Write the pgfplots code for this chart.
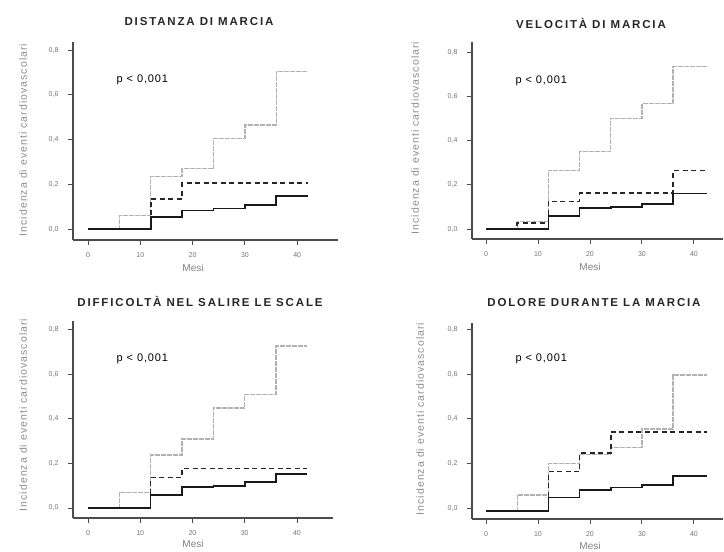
\documentclass[border=0pt]{standalone}
\usepackage{fontspec}
\setmainfont{Liberation Sans}
\newfontfamily\titlefont[LetterSpace=16]{Liberation Sans}
\newfontfamily\pfont[LetterSpace=8]{Liberation Sans}
\newfontfamily\labfont[LetterSpace=10]{Liberation Sans}
\usepackage{pgfplots}
\pgfplotsset{compat=1.18}
\pgfplotsset{
  km/.style={
    axis lines=left,
    axis line style={-, black!70, line width=1.1pt},
    scale only axis,
    tick align=outside,
    major tick length=5pt,
    tick style={black!70, line width=0.9pt},
    xtick={0,10,20,30,40},
    ytick={0,0.2,0.4,0.6,0.8},
    ticklabel style={font=\fontsize{7}{8}\selectfont, text=black!55},
    /pgf/number format/assume math mode=true,
    /pgf/number format/use comma,
    yticklabel style={/pgf/number format/fixed, /pgf/number format/fixed zerofill, /pgf/number format/precision=1, xshift=-6pt},
    xticklabel style={yshift=-4pt},
    clip=false,
  },
  gr/.style={const plot, black!30, line width=1.4pt, dash pattern=on 5pt off 1pt},
  da/.style={const plot, black!85, line width=1.5pt, dash pattern=on 5pt off 3.5pt},
  so/.style={const plot, black!90, line width=1.6pt},
}
\newcommand{\ptext}{\pfont\fontsize{11}{13}\selectfont p < 0,001}
\newcommand{\ylab}{\labfont\fontsize{10.5}{12}\selectfont Incidenza di eventi cardiovascolari}
\begin{document}
\begin{tikzpicture}[x=1pt,y=1pt]
\path[use as bounding box] (0,0) rectangle (724,552);
% ---------- Panel 1
\begin{axis}[km, at={(73pt,312pt)}, anchor=south west, width=265pt, height=198pt,
  xmin=-2.87, xmax=47.8, ymin=-0.049, ymax=0.836]
\addplot[gr] coordinates {(0,0) (6,0.06) (12,0.235) (18,0.27) (24,0.405) (30,0.465) (36,0.705) (42,0.705)};
\addplot[da] coordinates {(0,0) (12,0.135) (18,0.205) (42,0.205)};
\addplot[so] coordinates {(0,0) (12,0.055) (18,0.082) (24,0.092) (30,0.108) (36,0.147) (42,0.147)};
\node[anchor=west] at (axis cs:4.8,0.665) {\ptext};
\end{axis}
% ---------- Panel 2
\begin{axis}[km, at={(472pt,313pt)}, anchor=south west, width=251pt, height=197pt,
  xmin=-2.7, xmax=45.6, ymin=-0.045, ymax=0.846]
\addplot[gr] coordinates {(0,0) (6,0.035) (12,0.265) (18,0.35) (24,0.50) (30,0.567) (36,0.735) (42.5,0.735)};
\addplot[da] coordinates {(0,0) (6,0.027) (12,0.125) (18,0.162) (36,0.264) (42.5,0.264)};
\addplot[so] coordinates {(0,0) (12,0.06) (18,0.095) (24,0.10) (30,0.114) (36,0.16) (42.5,0.16)};
\node[anchor=west] at (axis cs:5,0.67) {\ptext};
\end{axis}
% ---------- Panel 3
\begin{axis}[km, at={(73pt,34pt)}, anchor=south west, width=260pt, height=197pt,
  xmin=-2.87, xmax=46.9, ymin=-0.045, ymax=0.84]
\addplot[gr] coordinates {(0,0) (6,0.07) (12,0.238) (18,0.31) (24,0.45) (30,0.51) (36,0.728) (42,0.728)};
\addplot[da] coordinates {(0,0) (12,0.137) (18,0.178) (42,0.178)};
\addplot[so] coordinates {(0,0) (12,0.058) (18,0.093) (24,0.10) (30,0.118) (36,0.152) (42,0.152)};
\node[anchor=west] at (axis cs:4.8,0.67) {\ptext};
\end{axis}
% ---------- Panel 4
\begin{axis}[km, at={(472pt,33pt)}, anchor=south west, width=251pt, height=196pt,
  xmin=-2.7, xmax=45.6, ymin=-0.049, ymax=0.83]
\addplot[gr] coordinates {(0,-0.013) (6,0.058) (12,0.20) (18,0.24) (24,0.272) (30,0.354) (36,0.596) (42.5,0.596)};
\addplot[da] coordinates {(0,-0.013) (12,0.163) (18,0.247) (24,0.342) (42.5,0.342)};
\addplot[so] coordinates {(0,-0.013) (12,0.048) (18,0.082) (24,0.093) (30,0.103) (36,0.145) (42.5,0.145)};
\node[anchor=west] at (axis cs:5,0.67) {\ptext};
\end{axis}
% ---------- titles
\begin{scope}[every node/.style={font=\titlefont\bfseries\fontsize{11.5}{13}\selectfont, text=black!85}]
\node at (199,530) {DISTANZA DI MARCIA};
\node at (591,529) {VELOCITÀ DI MARCIA};
\node at (200,251) {DIFFICOLTÀ NEL SALIRE LE SCALE};
\node at (594,249) {DOLORE DURANTE LA MARCIA};
\end{scope}
% ---------- y labels
\begin{scope}[every node/.style={rotate=90, text=black!45}]
\node at (23,412) {\ylab};
\node at (415,414) {\ylab};
\node at (23,137) {\ylab};
\node at (420,133) {\ylab};
\end{scope}
% ---------- x labels
\begin{scope}[every node/.style={text=black!50, font=\fontsize{10}{12}\selectfont}]
\node at (193,284) {Mesi};
\node at (590,285) {Mesi};
\node at (193,8) {Mesi};
\node at (590,6) {Mesi};
\end{scope}
\end{tikzpicture}
\end{document}
